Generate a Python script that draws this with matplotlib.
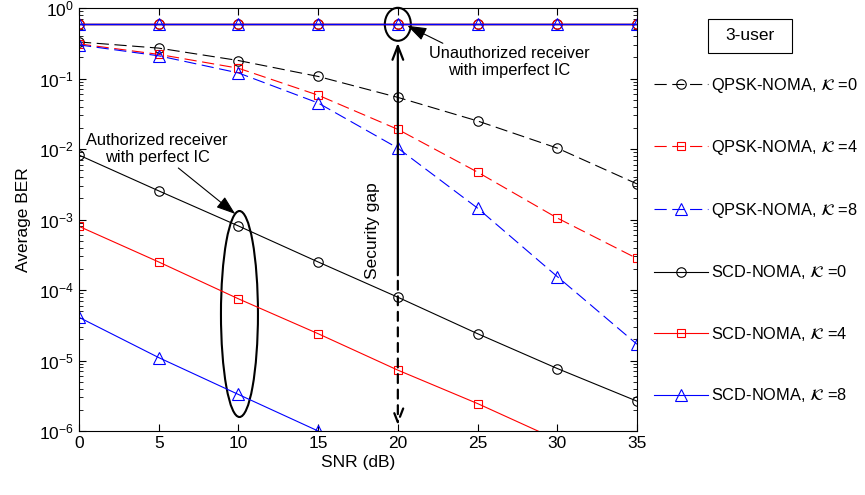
import numpy as np
import matplotlib
matplotlib.use("Agg")
import matplotlib.pyplot as plt
from matplotlib.patches import Ellipse, Rectangle

plt.rcParams['font.family'] = ['Liberation Sans', 'DejaVu Sans']
plt.rcParams['mathtext.fontset'] = 'stixsans'
plt.rcParams['font.size'] = 11

# ---------------------------------------
# Data
# ---------------------------------------
snr = [0, 5, 10, 15, 20, 25, 30, 35]

qpsk_k0 = [0.33, 0.27, 0.18, 0.107, 0.054, 0.025, 0.0103, 0.0032]
qpsk_k4 = [0.31, 0.22, 0.14, 0.058, 0.019, 0.0047, 0.00105, 0.00028]
qpsk_k8 = [0.30, 0.21, 0.12, 0.045, 0.0103, 0.00145, 0.000155, 1.7e-5]

scd_k0 = [8.2e-3, 2.55e-3, 8.1e-4, 2.5e-4, 7.9e-5, 2.4e-5, 7.7e-6, 2.65e-6]
scd_k4 = [8.0e-4, 2.5e-4, 7.5e-5, 2.4e-5, 7.3e-6, 2.45e-6, 7.5e-7, 2.4e-7]
scd_k8 = [4.1e-5, 1.1e-5, 3.3e-6, 1.0e-6, 3.1e-7, 1.0e-7, 3.1e-8, 1.0e-8]

# unauthorized receiver (imperfect IC), all near 0.6
unauth_k0 = [0.59] * 8
unauth_k4 = [0.59] * 8
unauth_k8 = [0.59] * 8

# ---------------------------------------
# Figure
# ---------------------------------------
fig = plt.figure(figsize=(8.65, 4.95), dpi=100)
ax = fig.add_axes([0.0913, 0.1293, 0.6451, 0.8545])

dash = (0, (11, 5))
circ = dict(marker='o', markersize=6.8, markerfacecolor='none', markeredgewidth=0.8)
sq = dict(marker='s', markersize=5.4, markerfacecolor='none', markeredgewidth=0.8)
tri = dict(marker='^', markersize=8, markerfacecolor='none', markeredgewidth=0.8)

ax.plot(snr, qpsk_k0, color='black', ls=dash, lw=0.8, **circ,
        label=r'QPSK-NOMA, $\mathcal{K}$ =0')
ax.plot(snr, qpsk_k4, color='red', ls=dash, lw=0.8, **sq,
        label=r'QPSK-NOMA, $\mathcal{K}$ =4')
ax.plot(snr, qpsk_k8, color='blue', ls=dash, lw=0.8, **tri,
        label=r'QPSK-NOMA, $\mathcal{K}$ =8')
ax.plot(snr, scd_k0, color='black', ls='-', lw=0.8, **circ,
        label=r'SCD-NOMA, $\mathcal{K}$ =0')
ax.plot(snr, scd_k4, color='red', ls='-', lw=0.8, **sq,
        label=r'SCD-NOMA, $\mathcal{K}$ =4')
ax.plot(snr, scd_k8, color='blue', ls='-', lw=0.8, **tri,
        label=r'SCD-NOMA, $\mathcal{K}$ =8')

ax.plot(snr, unauth_k0, color='black', lw=1.0, **circ)
ax.plot(snr, unauth_k4, color='red', lw=1.0, **circ)
ax.plot(snr, unauth_k8, color='blue', lw=1.0, **tri)

ax.set_yscale('log')
ax.set_xlim(0, 35)
ax.set_ylim(1e-6, 1)
ax.set_xticks(snr)
ax.set_yticks([1e-6, 1e-5, 1e-4, 1e-3, 1e-2, 1e-1, 1])
ax.tick_params(which='both', direction='in', top=True, right=True)
ax.tick_params(which='major', length=5)
ax.tick_params(which='minor', length=3)
ax.tick_params(labelsize=12.5)
ax.set_xlabel('SNR (dB)', fontsize=12.5, labelpad=3)
ax.set_ylabel('Average BER', fontsize=12.5, labelpad=6)

# ---------------------------------------
# Annotations
# ---------------------------------------
ax.add_patch(Ellipse((0.5714, 0.9615), 0.0466, 0.078, transform=ax.transAxes,
                     fill=False, lw=1.5, color='black', clip_on=False))
ax.add_patch(Ellipse((0.2876, 0.2766), 0.0663, 0.487, transform=ax.transAxes,
                     fill=False, lw=1.5, color='black'))

# security gap arrow
ax.annotate('', xy=(20, 0.35), xytext=(20, 1.48e-4),
            arrowprops=dict(arrowstyle='->,head_length=0.9,head_width=0.35',
                            lw=1.6, color='black'))
ax.annotate('', xy=(20, 1.1e-6), xytext=(20, 1.48e-4),
            arrowprops=dict(arrowstyle='->,head_length=0.9,head_width=0.35',
                            lw=1.6, color='black', linestyle=(0, (4, 3))))
ax.text(18.4, 7e-4, 'Security gap', rotation=90, ha='center', va='center',
        fontsize=12.5)

ax.annotate('Unauthorized receiver\nwith imperfect IC',
            xy=(20.6, 0.56), xytext=(27.0, 0.17),
            ha='center', va='center', fontsize=11.8, linespacing=1.2,
            arrowprops=dict(arrowstyle='-|>,head_length=1.0,head_width=0.35',
                            lw=0.8, color='black', shrinkA=0, shrinkB=0,
                            relpos=(0.1, 1.05)))
ax.annotate('Authorized receiver\nwith perfect IC',
            xy=(9.8, 1.2e-3), xytext=(4.9, 1.0e-2),
            ha='center', va='center', fontsize=11.8, linespacing=1.2,
            arrowprops=dict(arrowstyle='-|>,head_length=1.0,head_width=0.35',
                            lw=0.8, color='black', shrinkA=0, shrinkB=0,
                            relpos=(0.64, -0.05)))

# ---------------------------------------
# Legend
# ---------------------------------------
fig.patches.append(Rectangle((708 / 865, 1 - 53 / 495), 84 / 865, 34 / 495,
                             transform=fig.transFigure, fill=False,
                             ec='black', lw=0.8))
fig.text(750 / 865, 1 - 36 / 495, '3-user', ha='center', va='center',
         fontsize=12.5)
fig.legend(loc='center left', bbox_to_anchor=(654 / 865, 1 - 240 / 495),
           frameon=False, fontsize=11.8, handlelength=3.3, handletextpad=0.2,
           labelspacing=2.66, borderpad=0, borderaxespad=0)

fig.savefig('out.png', dpi=100)
